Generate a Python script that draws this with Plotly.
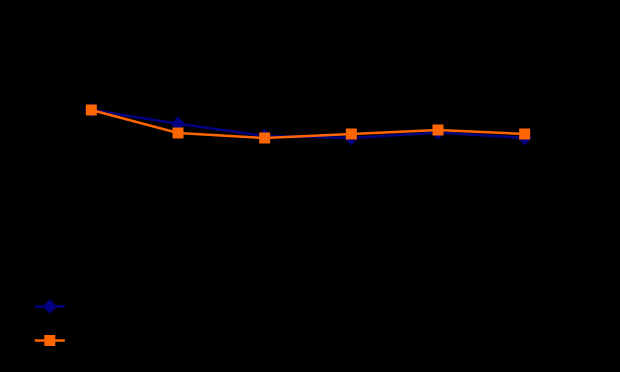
import plotly.graph_objects as go

categories = ["1", "2", "3", "4", "5", "6"]
series_a_name = "Series A"
series_a = [68.4, 62.9, 58.0, 57.2, 59.4, 57.2]
series_b_name = "Series B"
series_b = [68.4, 59.2, 57.2, 58.8, 60.4, 58.8]

fig = go.Figure()
fig.add_trace(go.Scatter(
    x=categories, y=series_a, name=series_a_name, mode="lines+markers",
    line=dict(color="#000080", width=2.5),
    marker=dict(symbol="diamond", size=11, color="#000080"),
    legendgroup="a",
))
fig.add_trace(go.Scatter(
    x=categories, y=series_b, name=series_b_name, mode="lines+markers",
    line=dict(color="#FF6600", width=2.5),
    marker=dict(symbol="square", size=11, color="#FF6600"),
    legendgroup="b",
))

fig.update_layout(
    width=620, height=372,
    paper_bgcolor="black", plot_bgcolor="black",
    font=dict(color="black", family="Liberation Sans", size=12),
    margin=dict(l=48, r=52, t=31, b=91),
    showlegend=True,
    legend=dict(x=-0.035, y=-0.044, xanchor="left", yanchor="top",
                orientation="v", tracegroupgap=15, bgcolor="rgba(0,0,0,0)"),
    xaxis=dict(showgrid=False, zeroline=False, showline=False, ticks="",
               range=[-0.5, 5.5]),
    yaxis=dict(showgrid=False, zeroline=False, showline=False, ticks="",
               range=[0, 100]),
)

fig.write_html("out.html")
